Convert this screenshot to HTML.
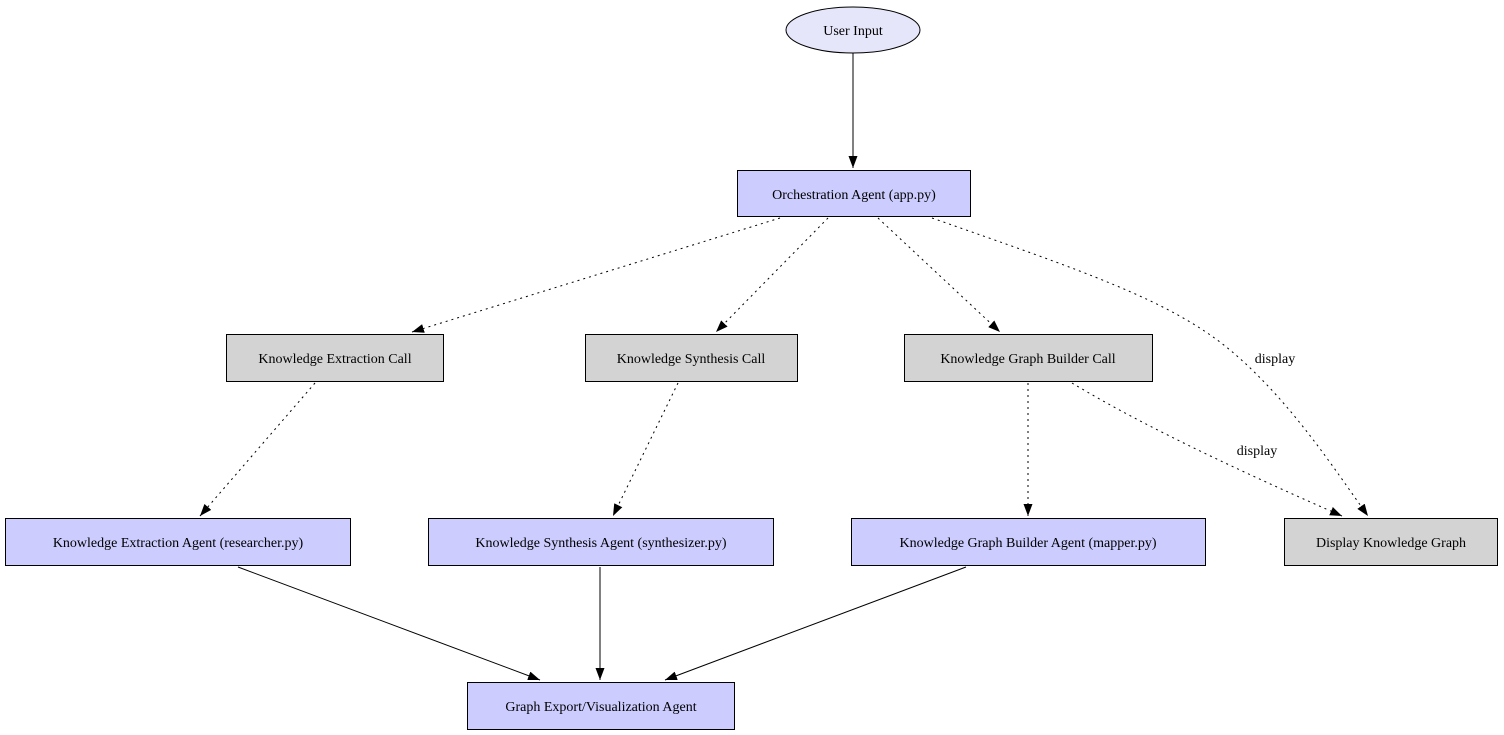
<!DOCTYPE html>
<html><head><meta charset="utf-8"><style>
html,body{margin:0;padding:0;background:#fff;}
svg{display:block;}
text{font-family:"Liberation Serif",serif;font-size:14px;fill:#000;}
</style></head><body>
<svg width="1504" height="735" viewBox="0 0 1504 735" xmlns="http://www.w3.org/2000/svg">
<defs>
<marker id="a" markerWidth="12" markerHeight="9" refX="12" refY="4.5" orient="auto" markerUnits="userSpaceOnUse">
<path d="M0,0 L12,4.5 L0,9 Z" fill="#000"/>
</marker>
</defs>
<g stroke="#000" stroke-width="1" fill="none">
<line x1="853" y1="53" x2="853" y2="168" marker-end="url(#a)"/>
<g stroke-dasharray="2,4">
<line x1="780" y1="218" x2="412" y2="332" marker-end="url(#a)"/>
<line x1="828" y1="218" x2="716" y2="332" marker-end="url(#a)"/>
<line x1="878" y1="218" x2="1000" y2="332" marker-end="url(#a)"/>
<path d="M932,218 C1080,270 1170,300 1230,350 C1290,400 1335,470 1368,516" marker-end="url(#a)"/>
<line x1="1028" y1="383" x2="1028" y2="516" marker-end="url(#a)"/>
<path d="M1072,383 C1150,430 1260,480 1342,516" marker-end="url(#a)"/>
<line x1="315" y1="383" x2="200" y2="516" marker-end="url(#a)"/>
<line x1="678" y1="383" x2="613" y2="516" marker-end="url(#a)"/>
</g>
<line x1="238" y1="567" x2="540" y2="680" marker-end="url(#a)"/>
<line x1="600" y1="567" x2="600" y2="680" marker-end="url(#a)"/>
<line x1="966" y1="567" x2="665" y2="680" marker-end="url(#a)"/>
</g>
<g stroke="#000" stroke-width="1">
<ellipse cx="853" cy="30" rx="67" ry="23" fill="#e6e6fa"/>
<rect x="737.5" y="170.5" width="233" height="46" fill="#ccccff"/>
<rect x="226.5" y="334.5" width="217" height="47" fill="#d3d3d3"/>
<rect x="585.5" y="334.5" width="212" height="47" fill="#d3d3d3"/>
<rect x="904.5" y="334.5" width="248" height="47" fill="#d3d3d3"/>
<rect x="5.5" y="518.5" width="345" height="47" fill="#ccccff"/>
<rect x="428.5" y="518.5" width="345" height="47" fill="#ccccff"/>
<rect x="851.5" y="518.5" width="354" height="47" fill="#ccccff"/>
<rect x="1284.5" y="518.5" width="213" height="47" fill="#d3d3d3"/>
<rect x="467.5" y="682.5" width="267" height="47" fill="#ccccff"/>
</g>
<g text-anchor="middle">
<text x="853" y="35">User Input</text>
<text x="854" y="199">Orchestration Agent (app.py)</text>
<text x="335" y="363">Knowledge Extraction Call</text>
<text x="691" y="363">Knowledge Synthesis Call</text>
<text x="1028" y="363">Knowledge Graph Builder Call</text>
<text x="178" y="547">Knowledge Extraction Agent (researcher.py)</text>
<text x="601" y="547">Knowledge Synthesis Agent (synthesizer.py)</text>
<text x="1028" y="547">Knowledge Graph Builder Agent (mapper.py)</text>
<text x="1391" y="547">Display Knowledge Graph</text>
<text x="601" y="711">Graph Export/Visualization Agent</text>
<text x="1275" y="363">display</text>
<text x="1257" y="455">display</text>
</g>
</svg>
</body></html>
